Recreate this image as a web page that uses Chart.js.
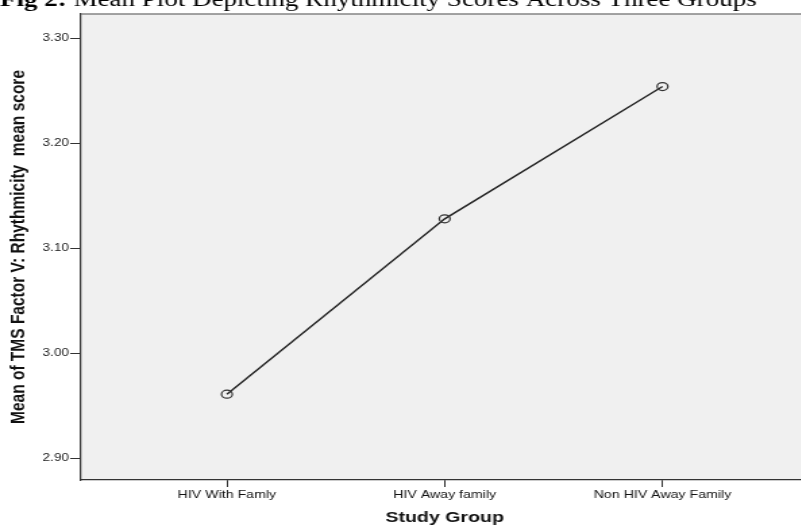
<!DOCTYPE html>
<html>
<head>
<meta charset="utf-8">
<script src="https://cdn.jsdelivr.net/npm/chart.js@4"></script>
<style>
  html, body { margin: 0; padding: 0; background: #fff; overflow: hidden; width: 801px; height: 527px; }
  #wrap { position: absolute; left: 0; top: 0; transform-origin: 0 0; }
  canvas { display: block; }
</style>
</head>
<body>
<div id="wrap"><canvas id="meanPlot" width="604" height="527" style="width:604px;height:527px"></canvas></div>
<script>
const groups = ['HIV With Famly', 'HIV Away family', 'Non HIV Away Family'];
const meanScores = [2.961, 3.128, 3.254];
const yTicks = [2.9, 3.0, 3.1, 3.2, 3.3];
const yRange = [2.8793, 3.3231];
const xRange = [-0.67, 2.67];

// the source figure is stretched sideways, so draw narrow and widen it
const STRETCH = 1.35;
document.getElementById('wrap').style.transform = `scaleX(${STRETCH})`;

const plotBg = {
  id: 'plotBg',
  beforeDraw(chart) {
    const { ctx, chartArea: a } = chart;
    ctx.save();
    ctx.fillStyle = '#f0f0f0';
    ctx.fillRect(a.left, a.top, a.right - a.left, a.bottom - a.top);
    ctx.restore();
  },
  afterDraw(chart) {
    const { ctx, chartArea: a } = chart;
    ctx.save();
    ctx.strokeStyle = '#858585';
    ctx.lineWidth = 1.5;
    ctx.beginPath();
    ctx.moveTo(a.left, a.top);
    ctx.lineTo(a.right, a.top);
    ctx.stroke();

    // figure caption, cut off at the top like the scan
    ctx.fillStyle = '#000';
    ctx.textBaseline = 'alphabetic';
    ctx.font = 'bold 20px "Liberation Serif", "Times New Roman", serif';
    const lead = 'Fig 2: ';
    ctx.fillText(lead, 0, 6);
    const w = ctx.measureText(lead).width;
    ctx.font = '20px "Liberation Serif", "Times New Roman", serif';
    ctx.fillText('Mean Plot Depicting Rhythmicity Scores Across Three Groups', w, 6);
    ctx.restore();
  },
};

const points = meanScores.map((v, i) => ({ x: i, y: v }));

new Chart(document.getElementById('meanPlot'), {
  type: 'line',
  data: {
    datasets: [
      {
        data: points,
        borderColor: '#222',
        borderWidth: 1.4,
        pointStyle: 'circle',
        pointRadius: 4,
        pointBorderWidth: 1.2,
        pointBorderColor: '#333',
        pointBackgroundColor: 'rgba(0,0,0,0)',
        tension: 0,
        fill: false,
      },
    ],
  },
  options: {
    responsive: false,
    animation: false,
    layout: { padding: { top: 14, left: 0, right: 0, bottom: 0 } },
    plugins: { legend: { display: false }, tooltip: { enabled: false } },
    scales: {
      x: {
        type: 'linear',
        min: xRange[0],
        max: xRange[1],
        afterBuildTicks: (scale) => { scale.ticks = groups.map((g, i) => ({ value: i })); },
        afterFit: (scale) => { scale.height = 47; },
        ticks: {
          callback: (v) => groups[v],
          color: '#111',
          padding: 2,
          maxRotation: 0,
          font: { family: 'Arial, "Liberation Sans", sans-serif', size: 10.5 },
        },
        grid: { drawOnChartArea: false, drawTicks: true, tickLength: 7, color: '#333' },
        border: { display: true, color: '#333', width: 1.2 },
        title: {
          display: true,
          text: 'Study Group',
          color: '#111',
          padding: { top: 0, bottom: 0 },
          font: { family: 'Arial, "Liberation Sans", sans-serif', size: 14.5, weight: 'bold' },
        },
      },
      y: {
        min: yRange[0],
        max: yRange[1],
        afterBuildTicks: (scale) => { scale.ticks = yTicks.map((v) => ({ value: v })); },
        afterFit: (scale) => { scale.width = 60; },
        ticks: {
          callback: (v) => Number(v).toFixed(2),
          color: '#222',
          padding: 1,
          font: { family: 'Arial, "Liberation Sans", sans-serif', size: 10 },
        },
        grid: { drawOnChartArea: false, drawTicks: true, tickLength: 8, color: '#333' },
        border: { display: true, color: '#333', width: 1.2 },
        title: {
          display: true,
          text: 'Mean of TMS Factor V: Rhythmicity  mean score',
          color: '#111',
          padding: { top: 4, bottom: 0 },
          font: { family: 'Arial, "Liberation Sans", sans-serif', size: 15.5, weight: 'bold' },
        },
      },
    },
  },
  plugins: [plotBg],
});
</script>
</body>
</html>
